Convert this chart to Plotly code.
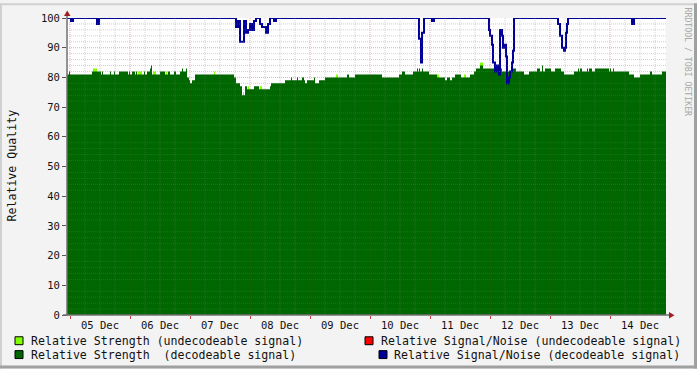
import plotly.graph_objects as go
import pandas as pd

BASE = pd.Timestamp("2023-12-05 00:00")
START_H = -1.2
END_H = 238.4

# Relative Strength (decodeable signal): step start (hours after 05 Dec 00:00) -> value
strength_dec_h = [-1.2, -0.4, 0, 8.8, 12.4, 12.8, 13.2, 16, 16.4, 17.6, 18, 19.6, 23.2, 23.6, 24, 24.8,
                  26, 26.4, 26.8, 29.6, 30, 30.8, 32, 32.4, 32.8, 36, 38, 39.2, 40, 41.6, 42.4, 44,
                  44.8, 45.2, 46.4, 46.8, 47.6, 48, 48.8, 50, 65.6, 66.4, 68, 68.8, 70, 70.8, 73.6,
                  75.6, 80, 80.4, 86, 88.4, 88.8, 90.8, 91.2, 92.8, 93.6, 94, 94.8, 97.6, 98, 99.6,
                  102, 110.8, 111.6, 114, 124.8, 131.6, 132.8, 134, 137.2, 138.8, 139.2, 139.6, 140,
                  140.8, 141.2, 143.6, 146.8, 150, 150.8, 152, 152.8, 154, 156.4, 160, 161.6, 162.4,
                  164, 165.2, 170.4, 172, 172.8, 174.4, 175.2, 177.2, 178.4, 181.6, 183.6, 186.8,
                  188, 188.8, 189.2, 190, 192.4, 194, 196.4, 197.6, 201.6, 203.2, 203.6, 204, 204.8,
                  206.8, 207.2, 207.6, 208.8, 210, 215.6, 216, 216.4, 217.2, 217.6, 223.6, 225.6,
                  228, 232, 232.8, 236.8]
strength_dec_v = [81, 82, 81, 82, 81, 82, 81, 82, 81, 82, 81, 82, 81, 82, 81, 82,
                  81, 82, 81, 82, 81, 82, 83, 84, 81, 82, 81, 82, 81, 82, 81, 82,
                  83, 82, 83, 80, 79, 78, 79, 81, 80, 78, 77, 74, 77, 76, 77,
                  76, 77, 78, 79, 80, 79, 80, 79, 80, 79, 78, 79, 80, 78, 79,
                  80, 81, 80, 81, 80, 81, 82, 81, 82, 83, 82, 83, 82,
                  83, 82, 81, 80, 79, 80, 79, 80, 81, 80, 81, 82, 83,
                  84, 83, 82, 83, 82, 83, 82, 83, 82, 81, 82, 83,
                  82, 84, 82, 83, 82, 83, 82, 81, 82, 83, 82, 83, 82,
                  83, 82, 83, 82, 83, 82, 83, 82, 83, 82, 81, 80,
                  81, 82, 81, 82]

# Relative Strength (undecodeable signal): short intervals
strength_undec_start = [9.2, 27.2, 33.2, 38.4, 57.6, 69.2, 71.2, 76.0, 106.4, 146.8, 157.6, 164.0]
strength_undec_end = [10.8, 28.8, 34.4, 38.8, 58.0, 69.6, 71.6, 76.8, 107.2, 147.6, 158.4, 165.2]
strength_undec_v = [83, 82, 82, 82, 82, 75, 77, 77, 81, 81, 81, 85]

# Relative Signal/Noise (decodeable signal): step start -> value
snr_dec_h = [-1.2, 0.4, 1.2, 10.8, 11.6, 66.4, 67.2, 68, 69.6, 70.4, 71.2, 72, 72.8, 73.6, 74.4,
             76, 76.8, 78.4, 79.2, 80, 81.6, 82.4, 139.6, 140.4, 140.8, 141.6, 144.8, 145.6,
             167.6, 168, 168.8, 169.2, 170, 170.8, 171.6, 172, 172.8, 173.2, 173.6, 174.4, 174.8,
             175.6, 176, 176.8, 177.2, 177.6, 195.2, 196, 196.8, 197.6, 198, 198.4, 198.8, 199.2,
             224.8, 225.6]
snr_dec_v = [100, 99, 100, 98, 100, 97, 99, 92, 99, 95, 96, 98, 96, 99, 100,
             98, 97, 95, 98, 100, 99, 100, 93, 85, 95, 100, 99, 100,
             96, 94, 91, 85, 82, 84, 81, 96, 94, 90, 91, 87, 78,
             80, 82, 85, 89, 100, 98, 94, 90, 89, 90, 95, 98, 100,
             98, 100]

Y_TICKS = list(range(0, 101, 10))

legend_labels = ["Relative Strength (undecodeable signal)",
                 "Relative Strength\u00a0\u00a0(decodeable signal)",
                 "Relative Signal/Noise (undecodeable signal)",
                 "Relative Signal/Noise (decodeable signal)"]
legend_colors = ["#80ff00", "#006600", "#ff0000", "#000099"]

C_DARK = "#006600"
C_LIGHT = "#80ff00"
C_BLUE = "#000099"
MONO = "DejaVu Sans Mono"


def t(h):
    return BASE + pd.to_timedelta(h, unit="h")


def steps(hs, vs, end):
    xs = [t(h) for h in hs] + [t(end)]
    ys = list(vs) + [vs[-1]]
    return xs, ys


# plot area in pixels
L, R, T, B = 67, 666, 15, 315
W, H = R - L, B - T


def px(x):
    return (x - L) / W


def py(y):
    return (B - y) / H


fig = go.Figure()

# undecodeable strength (drawn below), one block per interval
for s, e, v in zip(strength_undec_start, strength_undec_end, strength_undec_v):
    fig.add_trace(go.Scatter(x=[t(s), t(e)], y=[v, v], mode="lines", fill="tozeroy",
                             fillcolor=C_LIGHT, line=dict(width=0, shape="hv", color=C_LIGHT),
                             showlegend=False, hoverinfo="skip"))

gx, gy = steps(strength_dec_h, strength_dec_v, END_H)
fig.add_trace(go.Scatter(x=gx, y=gy, mode="lines", fill="tozeroy", fillcolor=C_DARK,
                         line=dict(width=0, shape="hv", color=C_DARK), showlegend=False))

bx, by = steps(snr_dec_h, snr_dec_v, END_H)
fig.add_trace(go.Scatter(x=bx, y=by, mode="lines", line=dict(width=2, shape="hv", color=C_BLUE),
                         showlegend=False, cliponaxis=False))

shapes = []
# grid (drawn above areas, like rrdtool)
minor_col = "rgba(120,120,120,0.35)"
major_col = "rgba(150,40,40,0.35)"
for v in range(0, 101, 2):
    if v in (0, 100):
        continue
    major = v % 10 == 0
    shapes.append(dict(type="line", xref="paper", yref="y", x0=0, x1=1, y0=v, y1=v,
                       line=dict(color=major_col if major else minor_col, width=1, dash="1px,1px"),
                       layer="above"))
hh = 0
while hh <= END_H:
    major = hh % 24 == 0
    shapes.append(dict(type="line", xref="x", yref="paper", x0=t(hh), x1=t(hh), y0=0, y1=1,
                       line=dict(color=major_col if major else minor_col, width=1, dash="1px,1px"),
                       layer="above"))
    hh += 6

# axes lines and arrows
axis_col = "#707070"
arrow_col = "#a02020"
shapes.append(dict(type="line", xref="paper", yref="paper", x0=px(67), x1=px(67), y0=py(316), y1=py(11),
                   line=dict(color=axis_col, width=1.5), layer="above"))
shapes.append(dict(type="line", xref="paper", yref="paper", x0=px(63), x1=px(670), y0=py(315), y1=py(315),
                   line=dict(color=axis_col, width=1.5), layer="above"))
shapes.append(dict(type="path", xref="paper", yref="paper",
                   path=f"M {px(64)} {py(13)} L {px(70.5)} {py(13)} L {px(67.2)} {py(7.5)} Z",
                   fillcolor=arrow_col, line=dict(width=0), layer="above"))
shapes.append(dict(type="path", xref="paper", yref="paper",
                   path=f"M {px(669)} {py(312)} L {px(669)} {py(318.5)} L {px(674.5)} {py(315.2)} Z",
                   fillcolor=arrow_col, line=dict(width=0), layer="above"))

# frame
shapes.append(dict(type="rect", xref="paper", yref="paper", x0=px(0), x1=px(697), y0=py(0), y1=py(2),
                   fillcolor="#d0d0d0", line=dict(width=0)))
shapes.append(dict(type="rect", xref="paper", yref="paper", x0=px(0), x1=px(2), y0=py(0), y1=py(369),
                   fillcolor="#d0d0d0", line=dict(width=0)))
shapes.append(dict(type="rect", xref="paper", yref="paper", x0=px(0), x1=px(697), y0=py(366), y1=py(369),
                   fillcolor="#a0a0a0", line=dict(width=0)))
shapes.append(dict(type="rect", xref="paper", yref="paper", x0=px(694), x1=px(697), y0=py(0), y1=py(369),
                   fillcolor="#a0a0a0", line=dict(width=0)))

# legend boxes
box_pos = [(15, 337), (15, 351), (365, 337), (379, 351)]
text_pos = [(30.7, 341.3), (30.7, 355), (380.7, 341.3), (394.3, 355)]
annotations = []
for (bx0, by0), (tx, ty), lab, col in zip(box_pos, text_pos, legend_labels, legend_colors):
    shapes.append(dict(type="rect", xref="paper", yref="paper", x0=px(bx0), x1=px(bx0 + 8),
                       y0=py(by0), y1=py(by0 + 8), fillcolor=col, line=dict(color="#000", width=1)))
    annotations.append(dict(text=lab, xref="paper", yref="paper", x=px(tx - 2), y=py(ty),
                            xanchor="left", yanchor="middle", showarrow=False,
                            font=dict(family=MONO, size=11.6, color="#111")))

annotations.append(dict(text="Relative Quality", xref="paper", yref="paper", x=px(12), y=py(164),
                        xanchor="center", yanchor="middle", textangle=-90, showarrow=False,
                        font=dict(family=MONO, size=11.6, color="#111")))
annotations.append(dict(text="RRDTOOL / TOBI OETIKER", xref="paper", yref="paper", x=px(688), y=py(59),
                        xanchor="center", yanchor="middle", textangle=90, showarrow=False,
                        font=dict(family=MONO, size=8.2, color="#a8a8a8")))

fig.update_layout(
    width=697, height=369,
    margin=dict(l=L, r=697 - R, t=T, b=369 - B, pad=0),
    paper_bgcolor="#f3f3f3", plot_bgcolor="#ffffff",
    showlegend=False,
    shapes=shapes, annotations=annotations,
    xaxis=dict(type="date", range=[t(START_H), t(END_H)], tick0=BASE, dtick=86400000,
               ticklabelmode="period", tickformat="%d %b", showgrid=False, zeroline=False,
               ticks="outside", ticklen=3, tickcolor="#d04040", showline=False,
               ticklabelstandoff=-3,
               tickfont=dict(family=MONO, size=10.5, color="#111")),
    yaxis=dict(range=[0, 100], tickvals=Y_TICKS, showgrid=False, zeroline=False,
               ticks="outside", ticklen=4, tickcolor="#555", showline=False,
               tickfont=dict(family=MONO, size=10.5, color="#111")),
)

fig.write_html("out.html")
